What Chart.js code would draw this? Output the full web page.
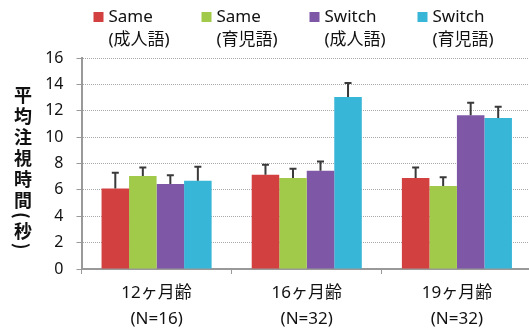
<!DOCTYPE html>
<html>
<head>
<meta charset="utf-8">
<script src="https://cdn.jsdelivr.net/npm/chart.js@4"></script>
<style>
    html, body { margin: 0; padding: 0; overflow: hidden; background: #fff; }
    #wrap { position: relative; width: 533px; height: 329px; }
    #yTitle {
        position: absolute; left: 10px; top: 86px;
        writing-mode: vertical-rl;
        font-family: "Noto Sans CJK JP"; font-weight: 700; font-size: 18px;
        letter-spacing: 3px; color: #111;
    }
</style>
</head>
<body>
<div id="wrap">
    <div id="yTitle">平均注視時間(秒)</div>
    <canvas id="attentionChart"></canvas>
</div>
<script>
const categories = [["12ヶ月齢", "(N=16)"], ["16ヶ月齢", "(N=32)"], ["19ヶ月齢", "(N=32)"]];
const seriesNames = [["Same", "(成人語)"], ["Same", "(育児語)"], ["Switch", "(成人語)"], ["Switch", "(育児語)"]];
const seriesColors = ["#D34040", "#A1C94A", "#7E58A7", "#38B6D7"];

// mean looking time (sec)
const sameAdult = [6.1, 7.15, 6.9];
const sameInfant = [7.05, 6.9, 6.3];
const switchAdult = [6.45, 7.45, 11.65];
const switchInfant = [6.7, 13.05, 11.45];

// upper error bar length
const sameAdultErr = [1.2, 0.75, 0.8];
const sameInfantErr = [0.65, 0.7, 0.65];
const switchAdultErr = [0.65, 0.7, 0.95];
const switchInfantErr = [1.05, 1.05, 0.85];

const yMin = 0;
const yMax = 16;
const yStep = 2;

const seriesValues = [sameAdult, sameInfant, switchAdult, switchInfant];
const seriesErrors = [sameAdultErr, sameInfantErr, switchAdultErr, switchInfantErr];

const errorBars = {
    id: "errorBars",
    afterDatasetsDraw(chart) {
        const { ctx, scales: { y } } = chart;
        ctx.save();
        ctx.strokeStyle = "#3a3a3a";
        ctx.lineWidth = 2;
        chart.data.datasets.forEach((ds, i) => {
            chart.getDatasetMeta(i).data.forEach((bar, j) => {
                const top = y.getPixelForValue(ds.data[j] + ds.errors[j]);
                ctx.beginPath();
                ctx.moveTo(bar.x, bar.y);
                ctx.lineTo(bar.x, top);
                ctx.moveTo(bar.x - 3.5, top);
                ctx.lineTo(bar.x + 3.5, top);
                ctx.stroke();
            });
        });
        ctx.restore();
    }
};

const topLegend = {
    id: "topLegend",
    afterDraw(chart) {
        const { ctx, chartArea } = chart;
        ctx.save();
        ctx.font = '17px "Noto Sans", "Noto Sans CJK JP"';
        ctx.textBaseline = "middle";
        ctx.textAlign = "left";
        chart.data.datasets.forEach((ds, i) => {
            const x = chartArea.left + 12 + i * 108;
            ctx.fillStyle = ds.backgroundColor;
            ctx.fillRect(x, 12, 10, 10);
            ctx.fillStyle = "#111";
            ds.label.forEach((line, k) => ctx.fillText(line, x + 15, 17 + k * 23));
        });
        ctx.restore();
    }
};

new Chart(document.getElementById("attentionChart"), {
    type: "bar",
    data: {
        labels: categories,
        datasets: seriesNames.map((name, i) => ({
            label: name,
            data: seriesValues[i],
            errors: seriesErrors[i],
            backgroundColor: seriesColors[i],
            borderWidth: 0,
            categoryPercentage: 0.733,
            barPercentage: 1,
        }))
    },
    options: {
        responsive: true,
        maintainAspectRatio: false,
        animation: false,
        layout: { padding: { left: 30, top: 58, right: 1, bottom: 0 } },
        plugins: {
            legend: { display: false },
            tooltip: { enabled: false },
        },
        scales: {
            x: {
                ticks: {
                    color: "#111",
                    padding: 6,
                    font: { family: '"Noto Sans", "Noto Sans CJK JP"', size: 17, lineHeight: 1.53 },
                },
                grid: { drawOnChartArea: false, offset: true, tickLength: 5, color: "#999" },
                border: { color: "#999", width: 2 },
                afterFit: s => { s.height = 60; },
            },
            y: {
                min: yMin,
                max: yMax,
                ticks: {
                    stepSize: yStep,
                    color: "#111",
                    padding: 13,
                    font: { family: '"Noto Sans"', size: 16 },
                },
                grid: { color: "#a8a8a8", tickLength: 5, tickColor: "#999" },
                border: { color: "#999", width: 2, dash: [1, 1] },
                afterFit: s => { s.width = 51.5; },
            }
        }
    },
    plugins: [errorBars, topLegend]
});
</script>
</body>
</html>
